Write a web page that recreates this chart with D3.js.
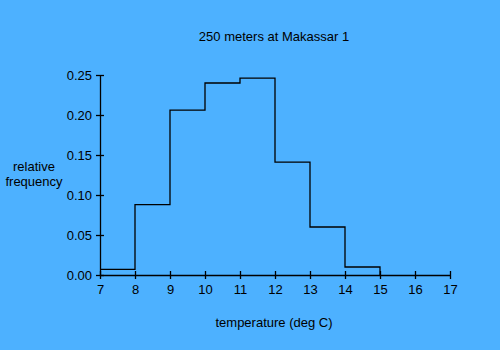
<!DOCTYPE html>
<html><head><meta charset="utf-8">
<script src="https://cdn.jsdelivr.net/npm/d3@7/dist/d3.min.js"></script>
<style>
html,body{margin:0;padding:0;background:#4db1ff;}
svg{display:block;}
text{font-family:"Liberation Sans",Arial,sans-serif;font-size:13px;fill:#000;}
</style></head>
<body>
<script>
const title = "250 meters at Makassar 1";
const xLabel = "temperature (deg C)";
const yLabel = ["relative", "frequency"];
const binStarts = [7, 8, 9, 10, 11, 12, 13, 14];
const binWidth = 1;
const frequencies = [0.007, 0.088, 0.206, 0.240, 0.246, 0.141, 0.060, 0.010];
const xTicks = [7, 8, 9, 10, 11, 12, 13, 14, 15, 16, 17];
const yTicks = [0, 0.05, 0.10, 0.15, 0.20, 0.25];

const W = 500, H = 350;
const svg = d3.select("body").append("svg").attr("width", W).attr("height", H);
svg.append("rect").attr("width", W).attr("height", H).attr("fill", "#4db1ff");

const x = d3.scaleLinear().domain([7, 17]).range([100, 450]);
const y = d3.scaleLinear().domain([0, 0.25]).range([275, 75]);

const xAxis = d3.axisBottom(x).tickValues(xTicks).tickFormat(d3.format("d")).tickSizeInner(4).tickSizeOuter(0).tickPadding(6);
const gx = svg.append("g").attr("transform", "translate(0,275)").call(xAxis);
gx.selectAll(".tick line").attr("y1", -4).attr("y2", 4);
const yAxis = d3.axisLeft(y).tickValues(yTicks).tickFormat(d3.format(".2f")).tickSizeInner(4).tickSizeOuter(0).tickPadding(4);
const gy = svg.append("g").attr("transform", "translate(100,0)").call(yAxis);
gy.selectAll(".tick line").attr("x1", -4).attr("x2", 4);
[gx, gy].forEach(g => {
  g.selectAll("path.domain").attr("stroke", "#000").attr("stroke-width", 1.3);
  g.selectAll(".tick line").attr("stroke", "#000").attr("stroke-width", 1.3);
  g.selectAll("text").attr("font-family", "Liberation Sans, Arial, sans-serif").attr("font-size", 11.5).attr("fill", "#000");
});

const pts = [];
binStarts.forEach((b, i) => {
  pts.push([b, frequencies[i]]);
  pts.push([b + binWidth, frequencies[i]]);
});
pts.push([binStarts[binStarts.length - 1] + binWidth, 0]);
const line = d3.line().x(d => x(d[0])).y(d => y(d[1]));
svg.append("path").attr("d", line(pts)).attr("fill", "none").attr("stroke", "#000").attr("stroke-width", 1.3);

svg.append("text").attr("x", 274).attr("y", 41).attr("text-anchor", "middle").text(title);
svg.append("text").attr("x", 274).attr("y", 327).attr("text-anchor", "middle").text(xLabel);
yLabel.forEach((s, i) => {
  svg.append("text").attr("x", 34).attr("y", 171 + i * 15).attr("text-anchor", "middle")
    .attr("font-size", 11.5).text(s);
});
</script>
</body></html>
